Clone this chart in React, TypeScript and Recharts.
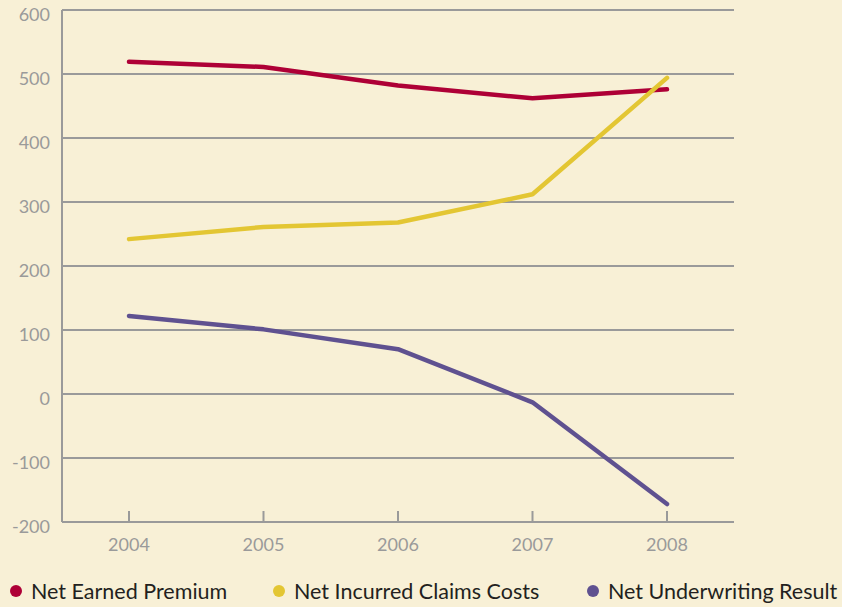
import React from "react";
import { LineChart, Line, XAxis, YAxis, CartesianGrid } from "recharts";

const years = ["2004", "2005", "2006", "2007", "2008"];
const netEarnedPremium = [519, 511, 482, 462, 476];
const netIncurredClaims = [242, 261, 268, 312, 494];
const netUnderwriting = [122, 101, 70, -13, -172];
const yTicks = [-200, -100, 0, 100, 200, 300, 400, 500, 600];

const seriesInfo = [
  { key: "premium", name: "Net Earned Premium", color: "#ae0036" },
  { key: "claims", name: "Net Incurred Claims Costs", color: "#e3c633" },
  { key: "result", name: "Net Underwriting Result", color: "#5f5190" },
];

const data = years.map((y, i) => ({
  year: y,
  premium: netEarnedPremium[i],
  claims: netIncurredClaims[i],
  result: netUnderwriting[i],
}));

const BG = "#f8f0d6";
const GRID = "#9a9a9a";
const LABEL = "#9a9a9a";
const FONT = "Lato, 'DejaVu Sans', sans-serif";

const XTick = (props: any) => {
  const { x, y, payload } = props;
  return (
    <g>
      <line x1={x} x2={x} y1={y - 11} y2={y} stroke={GRID} strokeWidth={2} />
      <text x={x} y={y + 29} textAnchor="middle" fill={LABEL} fontSize={18} fontFamily={FONT}>
        {payload.value}
      </text>
    </g>
  );
};

const YTick = (props: any) => {
  const { x, y, payload } = props;
  return (
    <text x={x} y={y + 11} textAnchor="end" fill={LABEL} fontSize={18} fontFamily={FONT}>
      {payload.value}
    </text>
  );
};

export default function App() {
  return (
    <div
      style={{
        position: "absolute",
        left: 0,
        top: 0,
        width: 842,
        height: 607,
        background: BG,
        fontFamily: FONT,
      }}
    >
      <LineChart
        width={842}
        height={607}
        data={data}
        margin={{ top: 10, right: 108, bottom: 45, left: 0 }}
      >
        <CartesianGrid vertical={false} stroke={GRID} strokeWidth={2} />
        <XAxis
          dataKey="year"
          height={40}
          padding={{ left: 67, right: 67 }}
          axisLine={{ stroke: GRID, strokeWidth: 2 }}
          tickLine={false}
          tickSize={0}
          tickMargin={0}
          tick={<XTick />}
          interval={0}
        />
        <YAxis
          width={62}
          domain={[-200, 600]}
          ticks={yTicks}
          axisLine={{ stroke: GRID, strokeWidth: 2 }}
          tickLine={false}
          tickSize={0}
          tickMargin={12}
          tick={<YTick />}
          interval={0}
        />
        {seriesInfo.map((s) => (
          <Line
            key={s.key}
            dataKey={s.key}
            name={s.name}
            stroke={s.color}
            strokeWidth={4.5}
            strokeLinecap="round"
            strokeLinejoin="round"
            dot={false}
            activeDot={false}
            type="linear"
            isAnimationActive={false}
          />
        ))}
      </LineChart>
      <div
        style={{
          position: "absolute",
          left: 0,
          top: 577,
          width: 842,
          height: 28,
        }}
      >
        {seriesInfo.map((s, i) => (
          <div
            key={s.key}
            style={{
              position: "absolute",
              left: [10, 273, 587][i],
              top: 0,
              display: "flex",
              alignItems: "center",
              whiteSpace: "nowrap",
            }}
          >
            <span
              style={{
                display: "inline-block",
                width: 12,
                height: 12,
                borderRadius: 6,
                background: s.color,
                marginRight: 9,
              }}
            />
            <span style={{ fontSize: 21.5, color: "#231f20", fontFamily: FONT, lineHeight: "28px" }}>
              {s.name}
            </span>
          </div>
        ))}
      </div>
    </div>
  );
}
